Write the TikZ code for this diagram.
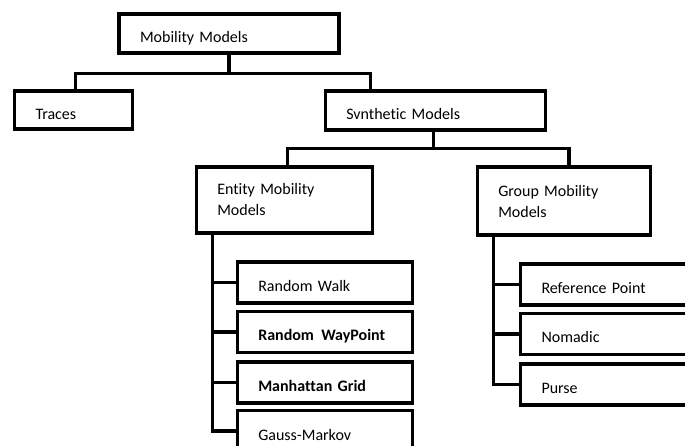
\documentclass[tikz,border=0pt]{standalone}
\usepackage{fontspec}
\setmainfont{Carlito}[Ligatures=NoCommon]

\begin{document}
\begin{tikzpicture}[x=1pt,y=-1pt,font=\fontsize{16}{21}\selectfont,
    mbox/.style={shape=rectangle,draw,line width=3.5pt,inner xsep=21pt,inner ysep=0pt,align=left},
    oneline/.style={text height=18pt,text depth=0pt},
    link/.style={line width=3.5pt}]
    \useasboundingbox (0,0) rectangle (685,446);
    \clip (0,0) rectangle (685,446);
    % top levels
    \node[mbox,oneline,minimum width=220pt,text width=178pt,minimum height=39pt] (mobility) at (229,33.75) {Mobility Models};
    \node[mbox,oneline,minimum width=118pt,text width=76pt,minimum height=38pt] (traces) at (73.5,110.25) {Traces};
    \node[mbox,oneline,minimum width=220pt,text width=178pt,minimum height=39pt] (synth) at (435.25,110.75) {Svnthetic Models};
    \node[mbox,minimum width=176pt,text width=134pt,minimum height=66pt] (entity) at (284.25,200) {Entity Mobility\\Models};
    \node[mbox,minimum width=173pt,text width=131pt,minimum height=68pt] (group) at (563.75,201.25) {Group Mobility\\Models};
    % entity models
    \node[mbox,oneline,minimum width=175pt,text width=133pt,minimum height=41pt] (rw) at (324.75,282.5) {Random Walk};
    \node[mbox,oneline,minimum width=175pt,text width=133pt,minimum height=41pt] (wp) at (324.75,331.75) {\textbf{Random\hspace{2pt} WayPoint}};
    \node[mbox,oneline,minimum width=175pt,text width=133pt,minimum height=41pt] (mg) at (324.75,382.25) {\textbf{Manhattan Grid}};
    \node[mbox,oneline,minimum width=175pt,text width=133pt,minimum height=41pt] (gm) at (324.75,431) {Gauss-Markov};
    % group models
    \node[mbox,oneline,minimum width=190pt,text width=148pt,minimum height=41pt] (rp) at (615.5,284.5) {Reference Point};
    \node[mbox,oneline,minimum width=190pt,text width=148pt,minimum height=41pt] (nomadic) at (615.5,333.75) {Nomadic};
    \node[mbox,oneline,minimum width=190pt,text width=148pt,minimum height=41pt] (purse) at (615.5,384.25) {Purse};
    % connectors
    \draw[link] (mobility.south) -- ++(0,18.5) coordinate (mfork);
    \draw[link] ([xshift=2pt]traces.north) |- (mfork) -| ([xshift=47pt]synth.north west);
    \draw[link] ([xshift=-2pt]synth.south) -- ++(0,16.5) coordinate (sfork);
    \draw[link] ([xshift=3pt]entity.north) |- (sfork) -| ([xshift=5pt]group.north);
    \coordinate (etop) at ([xshift=18pt]entity.south west);
    \coordinate (gtop) at ([xshift=18pt]group.south west);
    \draw[link] (etop) |- (gm.west);
    \foreach \n in {rw,wp,mg}
        \draw[link] (\n.west) -- (\n.west -| etop);
    \draw[link] (gtop) |- (purse.west);
    \foreach \n in {rp,nomadic}
        \draw[link] (\n.west) -- (\n.west -| gtop);
\end{tikzpicture}
\end{document}
